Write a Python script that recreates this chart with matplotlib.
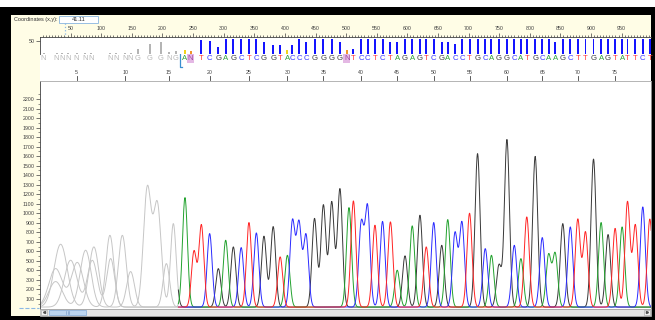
import numpy as np
import matplotlib
matplotlib.use('Agg')
import matplotlib.pyplot as plt
from matplotlib.patches import Rectangle

plt.rcParams['font.family'] = ['Liberation Sans', 'DejaVu Sans']

W, H = 655, 320

# base calls (1..80) and their scan positions
bases = 'N' * 11 + 'GGGNG' + 'ANTCGAGCTCGGTACCCGGGG' + 'N' + \
        'TCCTCTAGAGTCGACCTGCAGGCATGCAAGCTTGAGTATTCT'
base_pos = [5.9, 27.0, 36.0, 45.5, 59.8, 74.0, 83.0, 115.0, 124.0, 139.0,
            148.0, 159.5, 179.1, 197.1, 210.1, 221.6, 236.8, 246.1, 263.6, 277.1,
            291.3, 303.3, 315.8, 328.6, 341.3, 353.4, 365.8, 380.9, 392.3, 404.1,
            412.3, 423.0, 434.5, 448.4, 462.9, 476.5, 489.9, 501.0, 511.9, 524.7,
            535.0, 547.1, 559.5, 572.4, 583.5, 596.2, 608.0, 620.6, 630.9, 643.1,
            656.2, 666.0, 677.8, 689.2, 701.6, 714.7, 727.3, 737.4, 749.7, 762.7,
            774.7, 785.5, 795.1, 808.8, 820.4, 830.7, 841.5, 853.9, 866.2, 878.4,
            891.0, 904.1, 916.5, 927.9, 939.4, 950.8, 959.6, 972.4, 984.6, 996.1]
qual = [3] * 11 + [20, 38, 45, 8, 10,
        13, 12, 55, 52, 27, 58, 58, 58, 58, 58, 47, 36, 36, 16, 36, 58, 47,
        58, 58, 58, 47, 13, 18, 58, 58, 58, 58, 47, 47, 58, 58, 58, 58, 58,
        47, 47, 40] + [58] * 13 + [47] + [58] * 13
base_numbers = list(range(5, 80, 5))
clear_start = 226

# trace peaks per channel: scan position, height (RFU)
g_pos = [25.5, 74.5, 134.5, 175.3, 191.7, 217.8, 291.3, 315.8, 365.8, 380.9,
         448.4, 462.9, 476.5, 489.9, 596.2, 620.6, 656.2, 714.7, 749.7, 762.7,
         808.8, 853.9, 904.1, 927.9]
g_h = [268, 597, 754, 1245, 1069, 877, 404, 632, 744, 845,
       930, 1070, 1100, 1240, 538, 965, 649, 1612, 439, 1758,
       1583, 877, 1555, 762]
a_pos = [33.7, 88.0, 148.0, 236.8, 303.3, 404.1, 504.7, 583.5, 608.0, 666.0,
         737.4, 785.5, 830.7, 841.5, 916.5, 950.8]
a_h = [660, 632, 373, 1150, 702, 544, 1045, 387, 853, 919,
       544, 509, 544, 558, 888, 842]
c_pos = [25.5, 61.0, 114.2, 206.4, 277.1, 328.6, 353.4, 412.3, 423.0, 434.5,
         524.7, 535.0, 559.5, 643.1, 677.8, 689.2, 727.3, 774.7, 820.4, 866.2,
         984.6]
c_h = [404, 467, 754, 457, 772, 625, 779, 895, 870, 754,
       870, 1045, 900, 888, 772, 884, 614, 649, 730, 842,
       1052]
t_pos = [50.0, 85.5, 115.4, 251.5, 263.6, 341.3, 392.3, 511.9, 547.1, 572.4,
         630.9, 701.6, 795.1, 878.4, 891.0, 939.4, 959.6, 972.4, 996.1]
t_h = [492, 490, 509, 583, 860, 888, 527, 1115, 860, 895,
       632, 986, 947, 920, 785, 827, 1105, 860, 925]
baseline = 15

base_col = {'A': '#2ea03a', 'C': '#3a3aff', 'G': '#404040', 'T': '#ff3a3a'}
trace_col = {'G': '#383838', 'A': '#22a22e', 'C': '#2a2aff', 'T': '#ff2424'}


def rect(x0, y0, x1, y1):
    return [x0 / W, 1 - y1 / H, (x1 - x0) / W, (y1 - y0) / H]


def bare(a):
    a.set_xticks([])
    a.set_yticks([])
    for sp in a.spines.values():
        sp.set_visible(False)


fig = plt.figure(figsize=(W / 100, H / 100), dpi=100, facecolor='black')

# background / window chrome, in pixel coordinates
bg = fig.add_axes([0, 0, 1, 1])
bg.set_xlim(0, W)
bg.set_ylim(H, 0)
bg.axis('off')
bg.add_patch(Rectangle((0, 0), W, 7, fc='white', ec='none'))
bg.add_patch(Rectangle((11, 15), 640, 301, fc='#fffde6', ec='none'))
bg.text(14, 19.3, 'Coordinates (x,y):', fontsize=4, va='center', color='#303030')
bg.add_patch(Rectangle((59, 15.5), 39, 7.5, fc='white', ec='#88b4e0', lw=0.6))
bg.text(78.5, 19.3, '41.11', fontsize=4, va='center', ha='center', color='#303030')
bg.plot([65.1, 65.1], [23, 37], color='#8ab8e6', ls=':', lw=0.9)
bg.plot([19, 39], [307.5, 307.5], color='#8ab8e6', ls='--', lw=0.8)
# scroll bar
bg.add_patch(Rectangle((40, 308.5), 611, 7.5, fc='#e6e6e6', ec='#b4b4b4', lw=0.5))
bg.add_patch(Rectangle((41, 309.5), 6, 5.8, fc='#f2f2f2', ec='#a0a0a0', lw=0.4))
bg.add_patch(Rectangle((644, 309.5), 6, 5.8, fc='#f2f2f2', ec='#a0a0a0', lw=0.4))
bg.plot([44], [312.4], marker='<', ms=1.5, color='#505050')
bg.plot([647], [312.4], marker='>', ms=1.5, color='#505050')
bg.add_patch(Rectangle((49, 309.5), 37, 5.8, fc='#bcd5f0', ec='#80a8d8', lw=0.5))
for gx in [66, 67.5, 69]:
    bg.plot([gx, gx], [311, 314], color='#6f94c4', lw=0.4)

xmax = 998

# trace panel
ax = fig.add_axes(rect(40, 81, 651, 308.5))
x = np.arange(0, 1000, 0.25)
channels = [('G', g_pos, g_h), ('A', a_pos, a_h), ('C', c_pos, c_h), ('T', t_pos, t_h)]
for name, pos, hts in channels:
    y = np.full_like(x, baseline, dtype=float)
    for p, h in zip(pos, hts):
        s = np.interp(p, [0, 60, 110, 190, 226], [12, 10, 6.5, 6.3, 4.1])
        y += h * np.exp(-(x - p) ** 2 / (2 * s ** 2))
    early = x <= clear_start
    ax.plot(x[early], y[early], color='#c6c6c6', lw=0.7)
    ax.plot(x[x >= clear_start], y[x >= clear_start], color=trace_col[name], lw=0.7)
ax.set_xlim(0, xmax)
ax.set_ylim(0, 2390)
ax.set_xticks([])
ax.set_yticks(np.arange(100, 2300, 100))
ax.set_yticks(np.arange(50, 2300, 100), minor=True)
ax.tick_params(axis='y', which='major', length=3, width=0.5, labelsize=3.8,
               pad=1, colors='#404040')
ax.tick_params(axis='y', which='minor', length=1.5, width=0.4, colors='#404040')
for sp in ['top', 'right', 'bottom']:
    ax.spines[sp].set_color('#a8a8a8')
    ax.spines[sp].set_linewidth(0.6)
ax.spines['left'].set_color('#404040')
ax.spines['left'].set_linewidth(0.6)

# sequence letters and base numbers
ax_s = fig.add_axes(rect(40, 53.5, 651, 80.6))
ax_s.set_facecolor('white')
ax_s.set_xlim(0, xmax)
ax_s.set_ylim(80.6, 53.5)
bare(ax_s)
for i, b in enumerate(bases):
    p = base_pos[i]
    if p < clear_start:
        ax_s.text(p, 58.5, b, fontsize=5.4, ha='center', va='center', color='#b8b8b8')
    elif b == 'N':
        ax_s.text(p, 58.5, b, fontsize=5.6, ha='center', va='center', color='#a04aa0',
                  bbox=dict(boxstyle='square,pad=0.12', fc='#e4b8e4', ec='none'))
    else:
        ax_s.text(p, 58.5, b, fontsize=5.6, ha='center', va='center', color=base_col[b])
for k in base_numbers:
    ax_s.text(base_pos[k - 1], 72.5, str(k), fontsize=3.8, ha='center', va='center',
              color='#404040')
    ax_s.plot([base_pos[k - 1]] * 2, [76, 80], color='#404040', lw=0.6)
ax_s.plot([clear_start + 2, clear_start + 2, clear_start + 6], [54, 67, 67],
          color='#3a8fd0', lw=0.9)

# quality bars
ax_q = fig.add_axes(rect(40, 37, 651, 53.5))
qcols = []
for p, q, b in zip(base_pos, qual, bases):
    if p < clear_start:
        qcols.append('#b4b4b4')
    elif b == 'N':
        qcols.append('#f0962a')
    elif q < 17:
        qcols.append('#f2d21a')
    else:
        qcols.append('#1414ff')
ax_q.bar(base_pos, qual, width=3.2, color=qcols)
ax_q.set_xlim(0, xmax)
ax_q.set_ylim(0, 66)
ax_q.set_xticks([])
ax_q.set_yticks([50])
ax_q.tick_params(axis='y', length=3, width=0.5, labelsize=3.8, pad=1, colors='#404040')
for sp in ['top', 'right', 'bottom']:
    ax_q.spines[sp].set_visible(False)
ax_q.spines['left'].set_color('#404040')
ax_q.spines['left'].set_linewidth(0.6)

# scan ruler
ax_r = fig.add_axes(rect(40, 32, 651, 36.8))
ax_r.set_facecolor('none')
ax_r.set_xlim(0, xmax)
ax_r.set_yticks([])
ax_r.set_xticks(np.arange(50, 1000, 50))
ax_r.set_xticks(np.arange(5, 1000, 5), minor=True)
ax_r.tick_params(axis='x', which='both', direction='in', bottom=True, top=False,
                 labelbottom=False, labeltop=True, labelsize=3.8, pad=0.4,
                 colors='#404040', width=0.5)
ax_r.tick_params(axis='x', which='major', length=3)
ax_r.tick_params(axis='x', which='minor', length=1.4, labeltop=False)
for sp in ['top', 'right', 'left']:
    ax_r.spines[sp].set_visible(False)
ax_r.spines['bottom'].set_color('#404040')
ax_r.spines['bottom'].set_linewidth(0.6)

fig.savefig('out.png', dpi=100, facecolor=fig.get_facecolor())
